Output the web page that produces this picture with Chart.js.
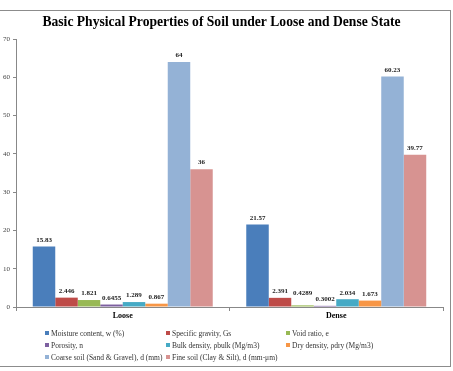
<!DOCTYPE html>
<html>
<head>
<meta charset="utf-8">
<script src="https://cdn.jsdelivr.net/npm/chart.js@4/dist/chart.umd.min.js"></script>
<style>
  html, body { margin: 0; padding: 0; background: #fff; }
  #wrap { position: relative; width: 453px; height: 371px; overflow: hidden; }
  #c { position: absolute; left: 0; top: 0; }
  #legend { position: absolute; left: 45px; top: 327px; width: 400px;
    display: grid; grid-template-columns: 121px 120px 150px; grid-auto-rows: 12px;
    font-family: "Liberation Serif", "Times New Roman", serif; font-size: 7.5px; color: #333; }
  #legend .it { display: flex; align-items: center; white-space: nowrap; }
  #legend .sw { width: 4px; height: 4px; margin-right: 2px; flex: none; }
</style>
</head>
<body>
<div id="wrap">
  <canvas id="c" width="453" height="371"></canvas>
  <div id="legend"></div>
</div>
<script>
const categories = ["Loose", "Dense"];
const seriesNames = [
  "Moisture content, w (%)",
  "Specific gravity, Gs",
  "Void ratio, e",
  "Porosity, n",
  "Bulk density, \u03C1bulk (Mg/m3)",
  "Dry density, \u03C1dry (Mg/m3)",
  "Coarse soil (Sand & Gravel), d (mm)",
  "Fine soil (Clay & Silt),  d (mm-\u03BCm)"
];
const moisture = [15.83, 21.57];
const specificGravity = [2.446, 2.391];
const voidRatio = [1.821, 0.4289];
const porosity = [0.6455, 0.3002];
const bulkDensity = [1.289, 2.034];
const dryDensity = [0.867, 1.673];
const coarseSoil = [64, 60.23];
const fineSoil = [36, 39.77];
const yTicks = [0, 10, 20, 30, 40, 50, 60, 70];

const seriesValues = [moisture, specificGravity, voidRatio, porosity, bulkDensity, dryDensity, coarseSoil, fineSoil];
const colors = ["#4A7EBB", "#BE4B48", "#98B954", "#7D60A0", "#46AAC5", "#F79646", "#94B2D6", "#D79391"];

const serif = '"Liberation Serif", "Times New Roman", serif';

const datasets = seriesNames.map((name, i) => ({
  label: name,
  data: seriesValues[i],
  backgroundColor: colors[i],
  borderWidth: 0
}));

const frame = {
  id: 'frame',
  beforeDraw(chart) {
    const ctx = chart.ctx;
    ctx.save();
    ctx.strokeStyle = '#8c8c8c';
    ctx.lineWidth = 1;
    ctx.strokeRect(-1, 10.5, 451.5, 356);
    ctx.restore();
  }
};

const valueLabels = {
  id: 'valueLabels',
  afterDatasetsDraw(chart) {
    const ctx = chart.ctx;
    ctx.save();
    ctx.font = 'bold 7px ' + serif;
    ctx.fillStyle = '#222';
    ctx.textAlign = 'center';
    ctx.textBaseline = 'bottom';
    const n = chart.data.datasets.length;
    chart.data.labels.forEach((_, j) => {
      const items = [];
      for (let di = 0; di < n; di++) {
        const el = chart.getDatasetMeta(di).data[j];
        const txt = String(chart.data.datasets[di].data[j]);
        const w = ctx.measureText(txt).width;
        items.push({ txt, x: el.x, y: el.y - 3, w });
      }
      // avoid crowding: lift the left label when two neighbours nearly touch
      for (let k = 1; k < items.length; k++) {
        const a = items[k - 1], b = items[k];
        const gap = (b.x - b.w / 2) - (a.x + a.w / 2);
        if (gap < 4 && Math.abs(a.y - b.y) < 8) a.y = Math.min(a.y, b.y) - 6;
      }
      items.forEach(it => ctx.fillText(it.txt, it.x, it.y));
    });
    ctx.restore();
  }
};

new Chart(document.getElementById('c'), {
  type: 'bar',
  data: { labels: categories, datasets },
  options: {
    responsive: false,
    animation: false,
    devicePixelRatio: 1,
    layout: { padding: { left: 0, right: 10, top: 0, bottom: 44 } },
    datasets: { bar: { categoryPercentage: 0.843, barPercentage: 1 } },
    plugins: {
      legend: { display: false },
      tooltip: { enabled: false },
      title: {
        display: true,
        text: 'Basic Physical Properties of Soil under Loose and Dense State',
        font: { family: serif, size: 13.6, weight: 'bold' },
        color: '#000',
        padding: { top: 14, bottom: 8.68 }
      }
    },
    scales: {
      x: {
        grid: { display: true, drawOnChartArea: false, drawTicks: true, tickLength: 4, color: '#888', offset: true },
        border: { display: true, color: '#888' },
        ticks: { font: { family: serif, size: 8, weight: 'bold' }, color: '#000', padding: 0 },
        afterFit(s) { s.height = 20; }
      },
      y: {
        min: 0, max: 70,
        afterBuildTicks(s) { s.ticks = yTicks.map(v => ({ value: v })); },
        grid: { display: true, drawOnChartArea: false, drawTicks: true, tickLength: 3, color: '#888' },
        border: { display: true, color: '#888' },
        ticks: { font: { family: serif, size: 7 }, color: '#444', padding: 3 },
        afterFit(s) { s.width = 16; }
      }
    }
  },
  plugins: [frame, valueLabels]
});

const lg = document.getElementById('legend');
seriesNames.forEach((name, i) => {
  const it = document.createElement('div');
  it.className = 'it';
  const sw = document.createElement('span');
  sw.className = 'sw';
  sw.style.background = colors[i];
  const tx = document.createElement('span');
  tx.textContent = name;
  it.appendChild(sw); it.appendChild(tx);
  lg.appendChild(it);
});
</script>
</body>
</html>
